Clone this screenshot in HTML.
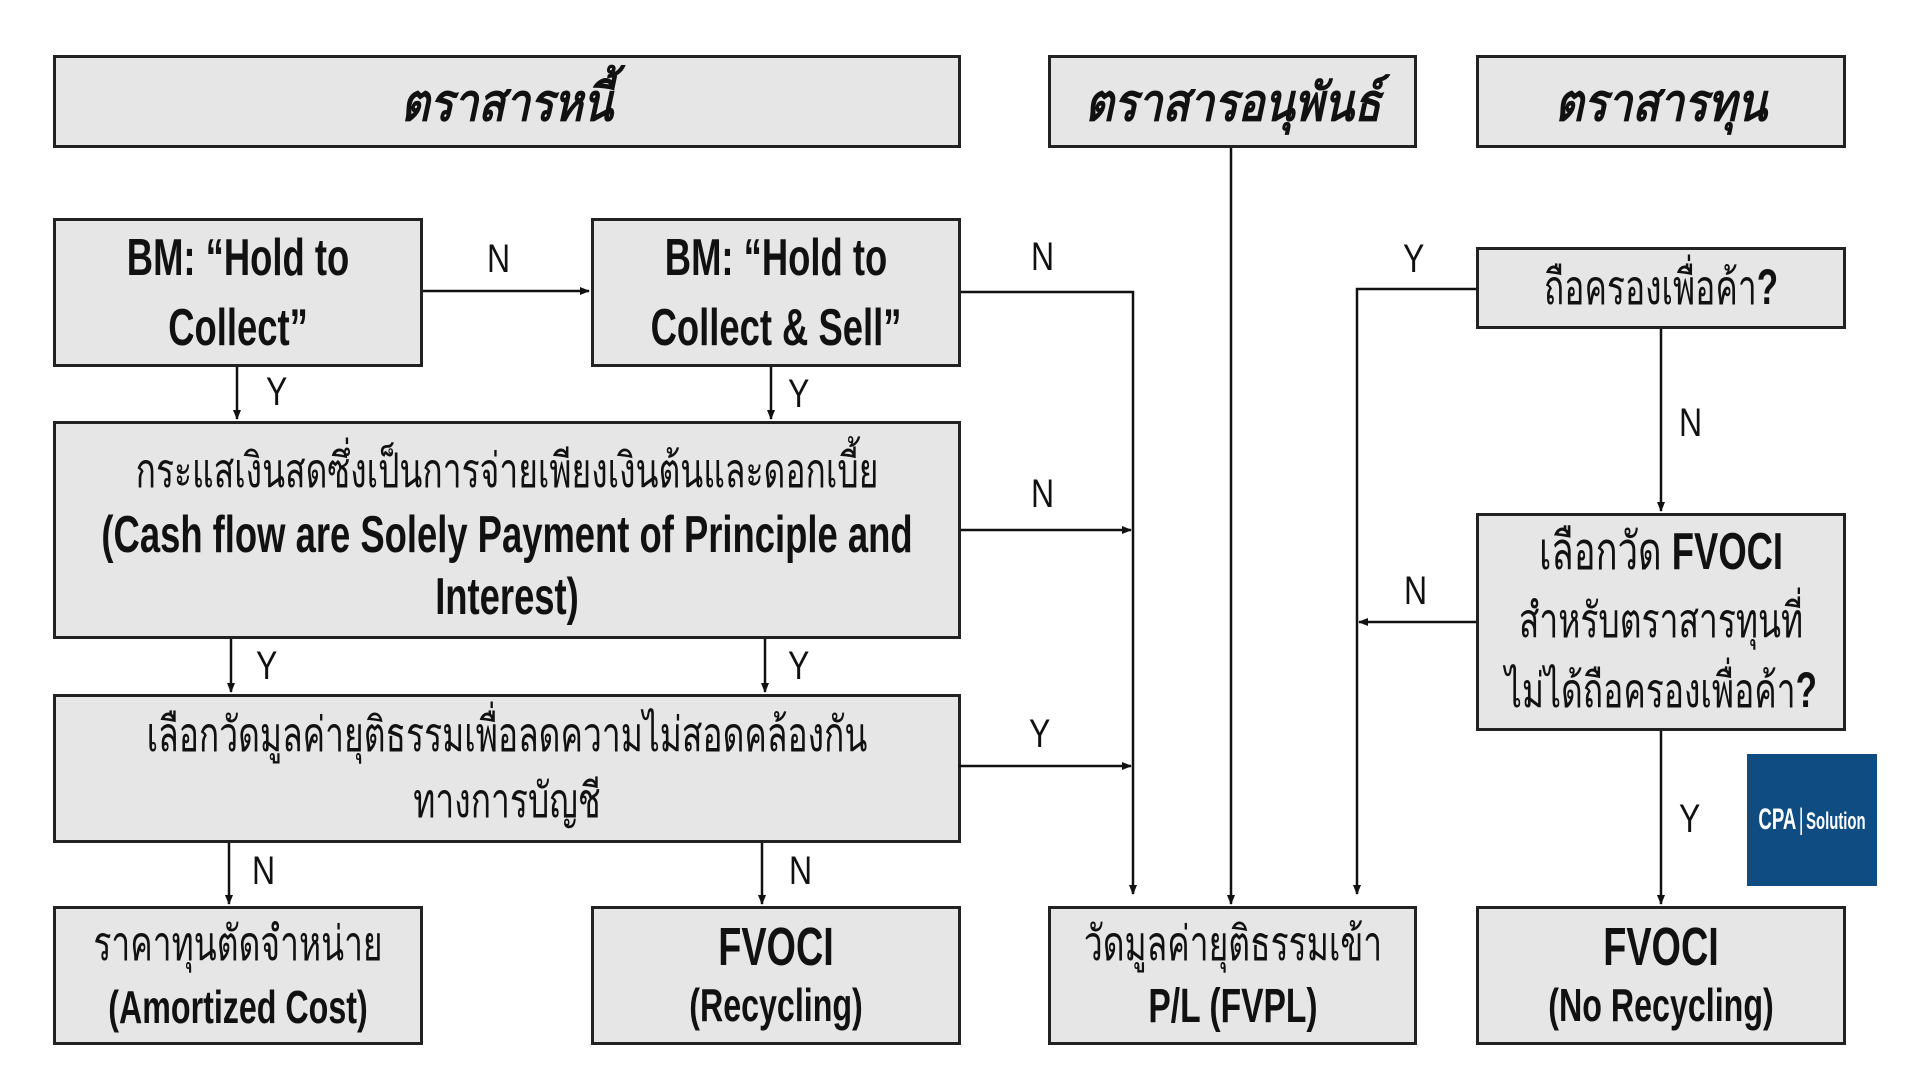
<!DOCTYPE html>
<html><head><meta charset="utf-8"><style>
body{margin:0;width:1920px;height:1080px;background:#fff;position:relative;overflow:hidden;font-family:"Liberation Sans","DejaVu Sans",sans-serif;color:#111}
.b{position:absolute;background:#e6e6e6;border:3px solid #222;box-sizing:border-box}
.t{position:absolute;left:50%;top:50%;transform:translate(-50%,-50%) scaleX(.7);white-space:nowrap;text-align:center}
.l{position:absolute;font-size:40px;transform:scaleX(.8);transform-origin:left}
.hd{font-style:italic;font-weight:bold;font-size:52px;transform:translate(-50%,-50%) scaleX(.85)}
.big{font-size:52px;line-height:70px;font-weight:bold}
.th{font-size:48px}
b,.bo{font-weight:bold}
</style></head><body>
<div class="b" style="left:53px;top:55px;width:908px;height:93px"><div class="t hd">ตราสารหนี้</div></div>
<div class="b" style="left:1048px;top:55px;width:369px;height:93px"><div class="t hd">ตราสารอนุพันธ์</div></div>
<div class="b" style="left:1476px;top:55px;width:370px;height:93px"><div class="t hd">ตราสารทุน</div></div>

<div class="b" style="left:53px;top:218px;width:370px;height:149px"><div class="t big">BM: “Hold to<br>Collect”</div></div>
<div class="b" style="left:591px;top:218px;width:370px;height:149px"><div class="t big">BM: “Hold to<br>Collect &amp; Sell”</div></div>

<div class="b" style="left:53px;top:421px;width:908px;height:218px"><div class="t" style="top:52%"><div class="th" style="line-height:64px">กระแสเงินสดซึ่งเป็นการจ่ายเพียงเงินต้นและดอกเบี้ย</div><div class="big" style="line-height:62px">(Cash flow are Solely Payment of Principle and<br>Interest)</div></div></div>

<div class="b" style="left:53px;top:694px;width:908px;height:149px"><div class="t th" style="line-height:66px">เลือกวัดมูลค่ายุติธรรมเพื่อลดความไม่สอดคล้องกัน<br>ทางการบัญชี</div></div>

<div class="b" style="left:53px;top:906px;width:370px;height:139px"><div class="t" style="line-height:62px"><div class="th">ราคาทุนตัดจำหน่าย</div><div class="bo" style="font-size:46px">(Amortized Cost)</div></div></div>
<div class="b" style="left:591px;top:906px;width:370px;height:139px"><div class="t bo" style="line-height:58px"><div style="font-size:54px">FVOCI</div><div style="font-size:46px">(Recycling)</div></div></div>
<div class="b" style="left:1048px;top:906px;width:369px;height:139px"><div class="t" style="line-height:62px"><div class="th">วัดมูลค่ายุติธรรมเข้า</div><div class="bo" style="font-size:48px">P/L (FVPL)</div></div></div>
<div class="b" style="left:1476px;top:906px;width:370px;height:139px"><div class="t bo" style="line-height:58px"><div style="font-size:54px">FVOCI</div><div style="font-size:46px">(No Recycling)</div></div></div>

<div class="b" style="left:1476px;top:247px;width:370px;height:82px"><div class="t th">ถือครองเพื่อค้า<b style="font-size:50px">?</b></div></div>
<div class="b" style="left:1476px;top:513px;width:370px;height:218px"><div class="t th" style="line-height:68px"><span style="font-size:52px">เลือกวัด <b>FVOCI</b></span><br>สำหรับตราสารทุนที่<br>ไม่ได้ถือครองเพื่อค้า<b style="font-size:50px">?</b></div></div>

<div style="position:absolute;left:1747px;top:754px;width:130px;height:132px;background:#0f4c81;color:#fff;font-weight:bold"><div class="t" style="transform:translate(-50%,-50%) scaleX(.62);font-size:30px">CPA<span style="font-weight:normal;margin:0 4px">|</span><span style="font-size:24px">Solution</span></div></div>

<svg width="1920" height="1080" style="position:absolute;left:0;top:0">
<defs><marker id="a" markerWidth="10" markerHeight="10" refX="9" refY="5" orient="auto" markerUnits="userSpaceOnUse"><path d="M0,1 L10,5 L0,9 z" fill="#111"/></marker></defs>
<g stroke="#111" stroke-width="2.5" fill="none">
<line x1="423" y1="291" x2="589" y2="291" marker-end="url(#a)"/>
<line x1="237" y1="367" x2="237" y2="419" marker-end="url(#a)"/>
<line x1="771" y1="367" x2="771" y2="419" marker-end="url(#a)"/>
<line x1="231" y1="639" x2="231" y2="692" marker-end="url(#a)"/>
<line x1="765" y1="639" x2="765" y2="692" marker-end="url(#a)"/>
<line x1="229" y1="843" x2="229" y2="904" marker-end="url(#a)"/>
<line x1="762" y1="843" x2="762" y2="904" marker-end="url(#a)"/>
<polyline points="961,292 1133,292 1133,894" marker-end="url(#a)"/>
<line x1="961" y1="530" x2="1131" y2="530" marker-end="url(#a)"/>
<line x1="959" y1="766" x2="1131" y2="766" marker-end="url(#a)"/>
<line x1="1231" y1="148" x2="1231" y2="904" marker-end="url(#a)"/>
<polyline points="1476,289 1357,289 1357,894" marker-end="url(#a)"/>
<line x1="1476" y1="622" x2="1359" y2="622" marker-end="url(#a)"/>
<line x1="1661" y1="329" x2="1661" y2="511" marker-end="url(#a)"/>
<line x1="1661" y1="731" x2="1661" y2="904" marker-end="url(#a)"/>
</g></svg>

<div class="l" style="left:487px;top:237px">N</div>
<div class="l" style="left:266px;top:370px">Y</div>
<div class="l" style="left:788px;top:372px">Y</div>
<div class="l" style="left:1031px;top:235px">N</div>
<div class="l" style="left:1031px;top:472px">N</div>
<div class="l" style="left:256px;top:644px">Y</div>
<div class="l" style="left:788px;top:644px">Y</div>
<div class="l" style="left:1029px;top:712px">Y</div>
<div class="l" style="left:252px;top:849px">N</div>
<div class="l" style="left:789px;top:849px">N</div>
<div class="l" style="left:1403px;top:237px">Y</div>
<div class="l" style="left:1679px;top:401px">N</div>
<div class="l" style="left:1404px;top:569px">N</div>
<div class="l" style="left:1679px;top:797px">Y</div>
</body></html>
